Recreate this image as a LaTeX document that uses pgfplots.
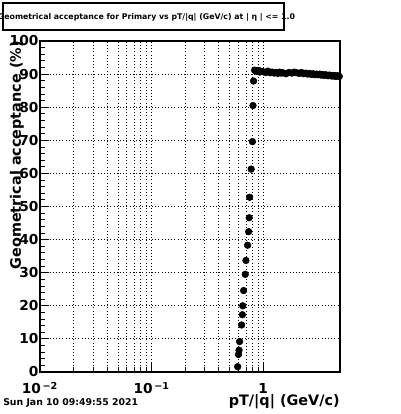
\documentclass[border=0pt]{standalone}
\usepackage{pgfplots}
\pgfplotsset{compat=1.18}
\usepackage{fontspec}
\setmainfont{DejaVu Sans}
\begin{document}
\begin{tikzpicture}[x=0.75pt,y=0.75pt]
\useasboundingbox (0,0) rectangle (400,414);
\begin{axis}[
  at={(30pt,31.5pt)}, anchor=south west,
  scale only axis, width=225pt, height=248.25pt,
  xmode=log, xmin=0.01, xmax=4.87, ymin=0, ymax=100,
  xtick={0.01,0.1,1}, xticklabels={10\textsuperscript{\,−2},10\textsuperscript{\,−1},1},
  ytick={0,10,...,100}, minor y tick num=4,
  tick pos=left, tick align=inside,
  major tick length=6.5pt, minor tick length=3.5pt,
  xmajorgrids, xminorgrids, ymajorgrids,
  major grid style={dotted, black, line width=0.6pt},
  minor grid style={dotted, black, line width=0.6pt},
  axis line style={line width=0.8pt},
  every tick/.style={black, line width=0.6pt},
  /pgf/number format/assume math mode=true,
  tick label style={font=\bfseries\fontsize{10.3}{12}\selectfont},
  yticklabel style={inner xsep=1pt},
  xticklabel style={anchor=base, yshift=-16.5pt},
  xlabel={\bfseries pT/|q| (GeV/c)},
  xlabel style={at={(axis description cs:1,-0.0997)}, anchor=base east, inner sep=0pt, font=\fontsize{10.8}{12}\selectfont},
  ylabel={\bfseries Geometrical acceptance (\%)},
  ylabel style={at={(axis description cs:-0.077,1)}, anchor=east, inner sep=0pt, font=\fontsize{10.8}{12}\selectfont},
]
\addplot[only marks, mark=*, mark size=2.5pt, black] coordinates {
(0.59,1.6) (0.60,5.3) (0.607,6.6) (0.614,9.2) (0.64,14.2) (0.65,17.3) (0.655,20.0)
(0.667,24.6) (0.69,29.5) (0.70,33.7) (0.724,38.3) (0.74,42.4) (0.748,46.6) (0.755,52.8)
(0.78,61.3) (0.80,69.6) (0.809,80.5) (0.819,87.9)
(0.836,91.2) (0.85,91.0) (0.88,90.8) (0.9,91.1) (0.93,90.6) (0.95,90.9) (1.0,90.7)
(1.05,90.5) (1.1,90.9) (1.15,90.4) (1.2,90.6) (1.25,90.3) (1.3,90.5) (1.35,90.2)
(1.4,90.6) (1.45,90.3) (1.5,90.4) (1.6,90.1) (1.7,90.5) (1.8,90.3) (1.9,90.6)
(2.0,90.4) (2.1,90.2) (2.2,90.5) (2.3,90.1) (2.4,90.3) (2.5,90.0) (2.6,90.2)
(2.7,89.9) (2.8,90.1) (2.9,89.8) (3.0,90.0) (3.1,89.8) (3.2,90.0) (3.3,89.7)
(3.4,89.9) (3.5,89.6) (3.6,89.8) (3.7,89.7) (3.8,89.5) (3.9,89.7) (4.0,89.6)
(4.1,89.4) (4.2,89.6) (4.3,89.4) (4.4,89.5) (4.5,89.3) (4.6,89.5) (4.7,89.4)
(4.8,89.3) (4.9,89.5)
};
\end{axis}
\draw[line width=0.8pt, fill=white] (3,411) rectangle (284,384);
\node[font=\bfseries\fontsize{5.85}{7}\selectfont, inner sep=0pt] at (146.5,397) {Geometrical acceptance for Primary vs pT/|q| (GeV/c) at | η | <= 1.0};
\node[font=\bfseries\fontsize{7}{8}\selectfont, anchor=base west, inner sep=0pt] at (3,8) {Sun Jan 10 09:49:55 2021};
\end{tikzpicture}
\end{document}
